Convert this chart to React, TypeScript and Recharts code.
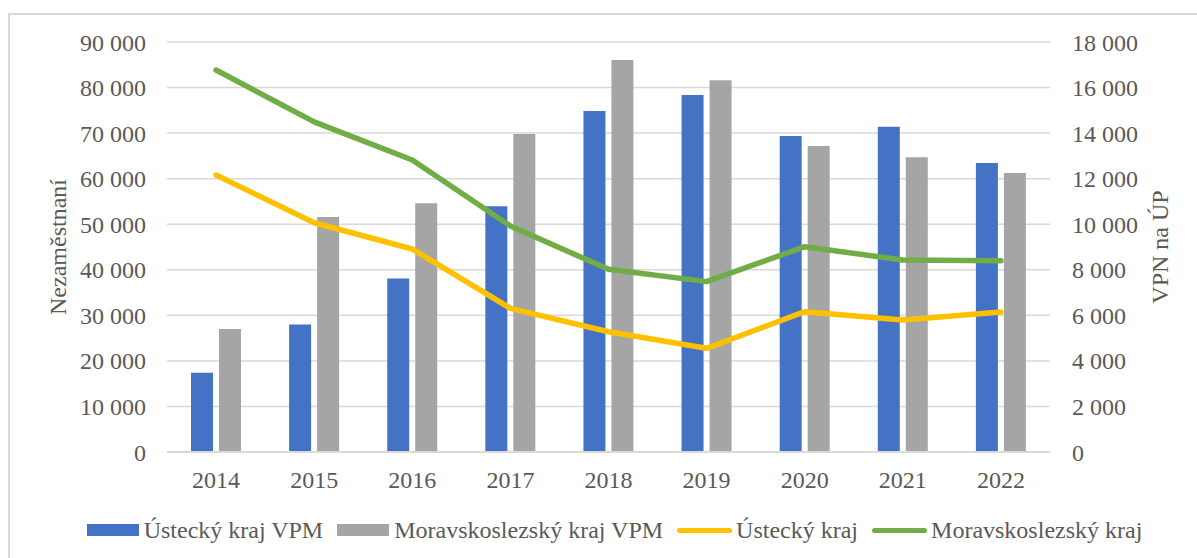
import { ComposedChart, Bar, Line, XAxis, YAxis, CartesianGrid, Legend } from "recharts";

const years = ["2014", "2015", "2016", "2017", "2018", "2019", "2020", "2021", "2022"];

// volná pracovní místa (right axis)
const usteckyVpm = [3480, 5600, 7620, 10790, 14970, 15670, 13870, 14280, 12690];
const moravskoslezskyVpm = [5400, 10320, 10920, 13960, 17210, 16320, 13430, 12940, 12250];

// nezaměstnaní (left axis)
const usteckyNez = [60800, 50330, 44560, 31540, 26400, 22760, 30800, 28970, 30730];
const moravskoslezskyNez = [83850, 72460, 64100, 49600, 40100, 37400, 45070, 42140, 42000];

const leftTicks = [0, 10000, 20000, 30000, 40000, 50000, 60000, 70000, 80000, 90000];
const rightTicks = [0, 2000, 4000, 6000, 8000, 10000, 12000, 14000, 16000, 18000];

const legendItems = [
  { name: "Ústecký kraj VPM", color: "#4472C4", kind: "bar" },
  { name: "Moravskoslezský kraj VPM", color: "#A5A5A5", kind: "bar" },
  { name: "Ústecký kraj", color: "#FFC000", kind: "line" },
  { name: "Moravskoslezský kraj", color: "#70AD47", kind: "line" },
];

const data = years.map((year, i) => ({
  year,
  usteckyVpm: usteckyVpm[i],
  moravskoslezskyVpm: moravskoslezskyVpm[i],
  usteckyNez: usteckyNez[i],
  moravskoslezskyNez: moravskoslezskyNez[i],
}));

const FONT = '"Liberation Serif", "Times New Roman", serif';
const TEXT = "#595959";

const formatNumber = (v: number) => (v === 0 ? "0" : v.toLocaleString("en-US").replace(/,/g, " "));

const AxisTitle = ({ viewBox, value, dx }: any) => {
  if (!viewBox) return null;
  const x = viewBox.x + dx;
  const y = viewBox.y + viewBox.height / 2;
  return (
    <text
      x={x}
      y={y}
      transform={`rotate(-90, ${x}, ${y})`}
      textAnchor="middle"
      dominantBaseline="central"
      fill={TEXT}
      fontSize={24}
      fontFamily={FONT}
    >
      {value}
    </text>
  );
};

const ChartLegend = () => (
  <div
    style={{
      display: "flex",
      justifyContent: "center",
      alignItems: "center",
      height: 36,
      paddingLeft: 46,
      fontFamily: FONT,
      fontSize: 24,
      color: TEXT,
    }}
  >
    {legendItems.map((item) => (
      <div key={item.name} style={{ display: "flex", alignItems: "center", marginRight: 14 }}>
        {item.kind === "bar" ? (
          <span style={{ display: "inline-block", width: 52, height: 12, background: item.color, marginRight: 5 }} />
        ) : (
          <span
            style={{ display: "inline-block", width: 55, height: 5, borderRadius: 3, background: item.color, marginRight: 4 }}
          />
        )}
        <span>{item.name}</span>
      </div>
    ))}
  </div>
);

export default function App() {
  return (
    <div style={{ position: "absolute", left: 0, top: 0, width: 1197, height: 558, background: "#fff", overflow: "hidden" }}>
      <div
        style={{
          position: "absolute",
          left: 8,
          top: 13,
          width: 1300,
          height: 700,
          borderLeft: "2px solid #d9d9d9",
          borderTop: "2px solid #d9d9d9",
        }}
      />
      <div style={{ position: "absolute", left: 0, top: 0 }}>
        <ComposedChart
          width={1197}
          height={558}
          data={data}
          margin={{ top: 42, right: 0, bottom: 10, left: 0 }}
          barSize={22}
          barGap={6}
        >
          <CartesianGrid vertical={false} stroke="#d9d9d9" strokeWidth={1.5} yAxisId="left" />
          <XAxis
            dataKey="year"
            axisLine={{ stroke: "#d9d9d9", strokeWidth: 2 }}
            tickLine={false}
            tickSize={0}
            tickMargin={19}
            height={60}
            tick={{ fill: TEXT, fontSize: 24, fontFamily: FONT }}
          />
          <YAxis
            yAxisId="left"
            orientation="left"
            width={167}
            domain={[0, 90000]}
            ticks={leftTicks}
            tickFormatter={formatNumber}
            axisLine={false}
            tickLine={false}
            tickSize={0}
            tickMargin={21}
            tick={{ fill: TEXT, fontSize: 24, fontFamily: FONT }}
            label={<AxisTitle value="Nezaměstnaní" dx={58} />}
          />
          <YAxis
            yAxisId="right"
            orientation="right"
            width={147}
            domain={[0, 18000]}
            ticks={rightTicks}
            tickFormatter={formatNumber}
            axisLine={false}
            tickLine={false}
            tickSize={0}
            tickMargin={22}
            tick={{ fill: TEXT, fontSize: 24, fontFamily: FONT, textAnchor: "start" }}
            label={<AxisTitle value="VPN na ÚP" dx={110} />}
          />
          <Legend verticalAlign="bottom" content={<ChartLegend />} />
          <Bar yAxisId="right" dataKey="usteckyVpm" name="Ústecký kraj VPM" fill="#4472C4" isAnimationActive={false} />
          <Bar
            yAxisId="right"
            dataKey="moravskoslezskyVpm"
            name="Moravskoslezský kraj VPM"
            fill="#A5A5A5"
            isAnimationActive={false}
          />
          <Line
            yAxisId="left"
            type="linear"
            dataKey="usteckyNez"
            name="Ústecký kraj"
            stroke="#FFC000"
            strokeWidth={5.5}
            strokeLinejoin="round"
            strokeLinecap="round"
            dot={false}
            activeDot={false}
            isAnimationActive={false}
          />
          <Line
            yAxisId="left"
            type="linear"
            dataKey="moravskoslezskyNez"
            name="Moravskoslezský kraj"
            stroke="#70AD47"
            strokeWidth={5.5}
            strokeLinejoin="round"
            strokeLinecap="round"
            dot={false}
            activeDot={false}
            isAnimationActive={false}
          />
        </ComposedChart>
      </div>
    </div>
  );
}
